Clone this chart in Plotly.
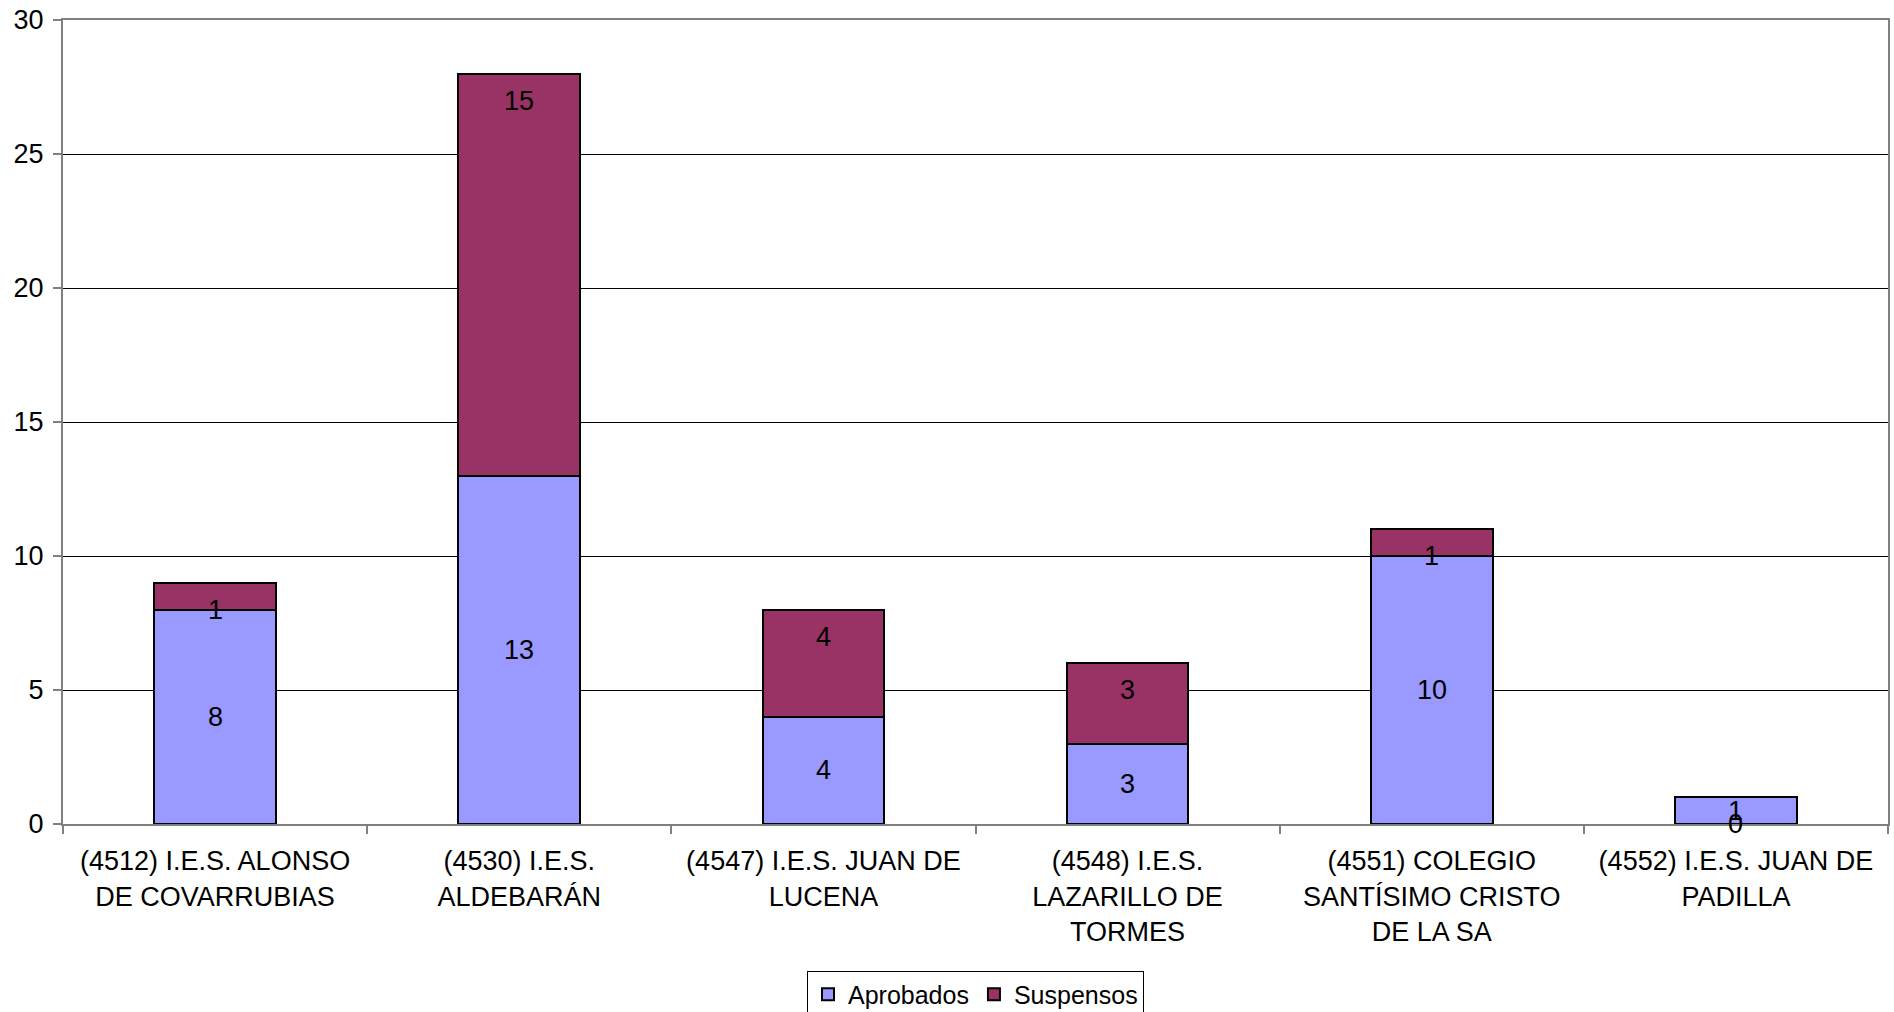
import plotly.graph_objects as go

categories = [
    "(4512) I.E.S. ALONSO<br>DE COVARRUBIAS",
    "(4530) I.E.S.<br>ALDEBARÁN",
    "(4547) I.E.S. JUAN DE<br>LUCENA",
    "(4548) I.E.S.<br>LAZARILLO DE<br>TORMES",
    "(4551) COLEGIO<br>SANTÍSIMO CRISTO<br>DE LA SA",
    "(4552) I.E.S. JUAN DE<br>PADILLA",
]
aprobados = [8, 13, 4, 3, 10, 1]
suspensos = [1, 15, 4, 3, 1, 0]
y_ticks = [0, 5, 10, 15, 20, 25, 30]

FONT = "Liberation Sans, Arial, sans-serif"
FS = 27

fig = go.Figure()
fig.add_trace(go.Bar(
    name="Aprobados", x=categories, y=aprobados,
    marker=dict(color="#9999FF", line=dict(color="black", width=2)),
))
fig.add_trace(go.Bar(
    name="Suspensos", x=categories, y=suspensos,
    marker=dict(color="#993366", line=dict(color="black", width=2)),
))

annotations = []
for c, a, s in zip(categories, aprobados, suspensos):
    annotations.append(dict(x=c, y=a / 2, text=str(a), showarrow=False,
                            font=dict(size=FS, color="black", family=FONT)))
    annotations.append(dict(x=c, y=a + s, yshift=-27, text=str(s), showarrow=False,
                            font=dict(size=FS, color="black", family=FONT)))

fig.update_layout(
    barmode="stack",
    bargap=0.6,
    width=1894, height=1012,
    margin=dict(l=63, r=6, t=20, b=188, autoexpand=False),
    plot_bgcolor="white", paper_bgcolor="white",
    font=dict(family=FONT, size=FS, color="black"),
    showlegend=True,
    legend=dict(orientation="h", x=0.5, xanchor="center",
                yref="container", y=0.041, yanchor="top",
                bordercolor="black", borderwidth=1, font=dict(size=25),
                traceorder="normal", itemwidth=30, tracegroupgap=0),
    annotations=annotations,
)
fig.update_xaxes(
    automargin=False,
    showline=True, linecolor="#808080", linewidth=2, mirror=True,
    ticks="outside", tickson="boundaries", ticklen=8, tickcolor="#808080", tickwidth=2,
    tickfont=dict(size=FS, family=FONT), ticklabelstandoff=12,
)
fig.update_yaxes(
    automargin=False,
    range=[0, 30], tickvals=y_ticks,
    showline=True, linecolor="#808080", linewidth=2, mirror=True,
    ticks="outside", ticklen=8, tickcolor="#808080", tickwidth=2,
    showgrid=True, gridcolor="black", gridwidth=1,
    tickfont=dict(size=FS, family=FONT), ticklabelstandoff=4,
    zeroline=False,
)

fig.write_html("out.html", config={"displayModeBar": False},
               post_script="document.body.style.margin='0';")
